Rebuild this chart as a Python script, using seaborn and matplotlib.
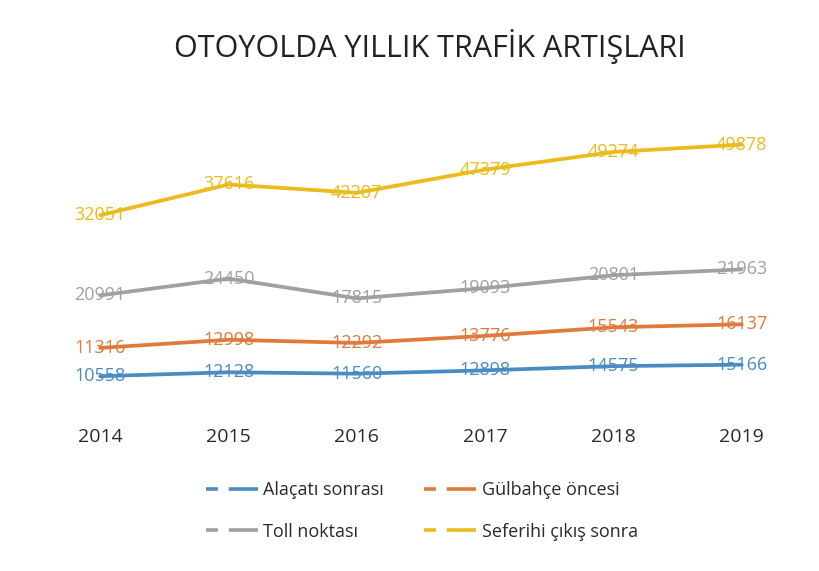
import numpy as np
import pandas as pd
import matplotlib.pyplot as plt
import seaborn as sns
from matplotlib.lines import Line2D

sns.set_theme(style="white")
plt.rcParams['font.family'] = ['Open Sans', 'DejaVu Sans']

years = ["2014", "2015", "2016", "2017", "2018", "2019"]
alacati = [10558, 12128, 11560, 12898, 14575, 15166]
gulbahce = [11316, 12998, 12292, 13776, 15543, 16137]
toll = [20991, 24450, 17815, 19093, 20801, 21963]
seferihi = [32051, 37616, 42207, 47379, 49274, 49878]

series_names = ["Alaçatı sonrası", "Gülbahçe öncesi", "Toll noktası", "Seferihi çıkış sonra"]
colors = ["#4a8cc2", "#e07a3c", "#a0a0a0", "#ebbb1c"]

# stacked line chart: each series is drawn on top of the previous ones
values = np.array([alacati, gulbahce, toll, seferihi])
stacked = values.cumsum(axis=0)

rows = []
for name, vals, tops in zip(series_names, values, stacked):
    for i, y in enumerate(years):
        rows.append({"Yıl": i, "Seri": name, "Değer": vals[i], "Toplam": tops[i]})
df = pd.DataFrame(rows)

fig = plt.figure(figsize=(8.19, 5.71), dpi=100)
ax = fig.add_axes([0.044, 0.273, 0.94, 0.552])

sns.lineplot(data=df, x="Yıl", y="Toplam", hue="Seri", hue_order=series_names,
             palette=colors, linewidth=2.7, legend=False, ax=ax)

for _, r in df.iterrows():
    c = colors[series_names.index(r["Seri"])]
    ax.text(r["Yıl"], r["Toplam"], f"{r['Değer']}", ha="center", va="center",
            fontsize=13, color=c)

ax.set_xlim(-0.5, 5.5)
ax.set_ylim(-5000, 121000)
ax.set_xticks(range(len(years)))
ax.set_xticklabels(years, fontsize=14, color="#2a2a2a")
ax.set_yticks([])
ax.set_xlabel("")
ax.set_ylabel("")
ax.tick_params(axis="x", length=0, pad=9)
for s in ax.spines.values():
    s.set_visible(False)

fig.text(0.525, 0.918, "OTOYOLDA YILLIK TRAFİK ARTIŞLARI", ha="center", va="center",
         fontsize=22, color="#222222")

# legend goes row by row in the reference: reorder for column-first filling
order = [0, 2, 1, 3]
handles = [Line2D([0], [0], color=colors[i], linewidth=2.6,
                  linestyle=(0, (3.3, 3.0, 20, 0.01)))
           for i in order]
labels = [series_names[i] for i in order]
fig.legend(handles, labels, ncol=2, loc="center", bbox_to_anchor=(0.515, 0.105),
           frameon=False, fontsize=13, handlelength=2.9, handletextpad=0.3,
           columnspacing=2.2, labelspacing=1.3, labelcolor="#2a2a2a")

fig.savefig("out.png", dpi=100)
